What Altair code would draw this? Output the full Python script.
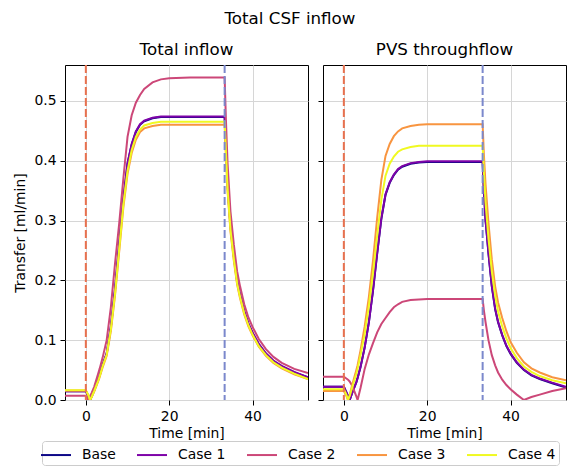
import altair as alt
import pandas as pd

FONT = "DejaVu Sans"

SERIES = ["Base", "Case 1", "Case 2", "Case 3", "Case 4"]
COLORS = ["#0d0887", "#7e03a8", "#cc4778", "#f89540", "#f0f921"]

TIME = [-5, 0, 0.6, 1, 1.4, 2, 3, 3.3, 4, 5, 6, 7, 8, 9, 10, 11, 12, 13, 14, 16, 18, 20, 25,
        33.3, 33.6, 34, 34.7, 35.5, 36.3, 37, 38, 39, 40, 41.5, 43.2, 45, 47, 50, 53.3]

# ---- Total inflow ----
TOTAL_BASE = [0.0145, 0.0145, 0.006, 0.0, 0.006, 0.016, 0.035, 0.041, 0.058, 0.078, 0.122, 0.185, 0.26, 0.335, 0.395, 0.427, 0.448, 0.46, 0.466, 0.471, 0.473, 0.473, 0.473,
              0.473, 0.42, 0.36, 0.29, 0.24, 0.198, 0.175, 0.148, 0.127, 0.112, 0.093, 0.077, 0.065, 0.056, 0.046, 0.038]
TOTAL_C1 = [0.0145, 0.0145, 0.006, 0.0, 0.006, 0.016, 0.035, 0.041, 0.058, 0.078, 0.122, 0.185, 0.261, 0.336, 0.396, 0.428, 0.449, 0.461, 0.467, 0.472, 0.474, 0.474, 0.474,
            0.474, 0.421, 0.361, 0.291, 0.241, 0.199, 0.176, 0.149, 0.128, 0.113, 0.094, 0.078, 0.066, 0.057, 0.047, 0.038]
TOTAL_C2 = [0.0073, 0.0073, 0.0, 0.006, 0.012, 0.022, 0.045, 0.052, 0.07, 0.1, 0.155, 0.228, 0.295, 0.37, 0.44, 0.476, 0.497, 0.51, 0.52, 0.531, 0.536, 0.538, 0.539,
            0.539, 0.47, 0.396, 0.315, 0.26, 0.215, 0.19, 0.16, 0.138, 0.122, 0.102, 0.085, 0.072, 0.062, 0.052, 0.045]
TOTAL_C3 = [0.016, 0.016, 0.008, 0.0, 0.005, 0.014, 0.032, 0.038, 0.054, 0.074, 0.115, 0.175, 0.248, 0.322, 0.378, 0.413, 0.435, 0.448, 0.454, 0.458, 0.46, 0.46, 0.46,
            0.46, 0.41, 0.35, 0.282, 0.233, 0.193, 0.17, 0.143, 0.123, 0.108, 0.089, 0.074, 0.062, 0.053, 0.043, 0.035]
TOTAL_C4 = [0.0165, 0.0165, 0.008, 0.0, 0.005, 0.015, 0.033, 0.039, 0.056, 0.076, 0.118, 0.178, 0.252, 0.327, 0.383, 0.418, 0.44, 0.452, 0.459, 0.463, 0.465, 0.465, 0.465,
            0.465, 0.415, 0.353, 0.285, 0.236, 0.195, 0.172, 0.145, 0.125, 0.109, 0.09, 0.075, 0.063, 0.054, 0.044, 0.035]

# ---- PVS throughflow ----
PVS_BASE = [0.022, 0.022, 0.013, 0.007, 0.0, 0.012, 0.03, 0.037, 0.055, 0.088, 0.13, 0.183, 0.245, 0.303, 0.343, 0.363, 0.376, 0.385, 0.39, 0.395, 0.397, 0.398, 0.398,
            0.398, 0.35, 0.30, 0.245, 0.19, 0.152, 0.13, 0.108, 0.09, 0.077, 0.062, 0.05, 0.041, 0.035, 0.028, 0.021]
PVS_C1 = [0.022, 0.022, 0.013, 0.007, 0.0, 0.012, 0.03, 0.037, 0.055, 0.088, 0.13, 0.184, 0.246, 0.304, 0.344, 0.364, 0.377, 0.386, 0.391, 0.396, 0.398, 0.399, 0.399,
          0.399, 0.351, 0.301, 0.246, 0.191, 0.153, 0.131, 0.109, 0.091, 0.078, 0.063, 0.051, 0.042, 0.036, 0.029, 0.022]
PVS_C2 = [0.039, 0.039, 0.036, 0.034, 0.031, 0.024, 0.006, 0.0, 0.02, 0.052, 0.076, 0.095, 0.113, 0.127, 0.137, 0.147, 0.155, 0.16, 0.164, 0.167, 0.168, 0.169, 0.169,
          0.169, 0.15, 0.13, 0.1, 0.075, 0.058, 0.046, 0.034, 0.025, 0.018, 0.009, 0.0, 0.005, 0.009, 0.015, 0.0195]
PVS_C3 = [0.015, 0.015, 0.007, 0.0, 0.008, 0.025, 0.05, 0.058, 0.083, 0.123, 0.172, 0.233, 0.305, 0.368, 0.408, 0.428, 0.441, 0.449, 0.454, 0.458, 0.46, 0.461, 0.461,
          0.461, 0.41, 0.36, 0.296, 0.235, 0.19, 0.163, 0.137, 0.115, 0.097, 0.079, 0.063, 0.053, 0.046, 0.038, 0.033]
PVS_C4 = [0.018, 0.018, 0.009, 0.0, 0.007, 0.021, 0.044, 0.052, 0.075, 0.11, 0.157, 0.212, 0.275, 0.335, 0.375, 0.395, 0.407, 0.415, 0.419, 0.423, 0.425, 0.425, 0.425,
          0.425, 0.38, 0.33, 0.27, 0.215, 0.175, 0.148, 0.123, 0.103, 0.087, 0.07, 0.056, 0.047, 0.04, 0.033, 0.028]

VLINE_TIMES = [0, 33.3]
VLINE_COLORS = ["#e8714f", "#7b88cc"]

Y_TICKS = [0.0, 0.1, 0.2, 0.3, 0.4, 0.5]
X_TICKS = [0, 20, 40]
X_DOMAIN = [-5, 53.3]
Y_DOMAIN = [0, 0.56]


def long_df(cols):
    rows = []
    for name, vals in zip(SERIES, cols):
        for i, (t, v) in enumerate(zip(TIME, vals)):
            rows.append({"Time": t, "Value": v, "Series": name, "order": i})
    return pd.DataFrame(rows)


total_df = long_df([TOTAL_BASE, TOTAL_C1, TOTAL_C2, TOTAL_C3, TOTAL_C4])
pvs_df = long_df([PVS_BASE, PVS_C1, PVS_C2, PVS_C3, PVS_C4])

legend = alt.Legend(
    title=None, orient="none", legendX=-23, legendY=376, direction="horizontal",
    columns=5, symbolType="M-1.5,0H1.5", symbolSize=400, symbolStrokeWidth=2,
    symbolFillColor="transparent",
    labelFontSize=13.9, labelFont=FONT, labelColor="black", labelOffset=15,
    columnPadding=17, padding=3, strokeColor="#cccccc", cornerRadius=3,
    fillColor="white",
)


def panel(df, title, first):
    x = alt.X("Time:Q", scale=alt.Scale(domain=X_DOMAIN, nice=False, zero=False),
              axis=alt.Axis(values=X_TICKS, title="Time [min]"))
    if first:
        yaxis = alt.Axis(values=Y_TICKS, format=".1f", title="Transfer [ml/min]")
    else:
        yaxis = alt.Axis(values=Y_TICKS, labels=False, title=None)
    y = alt.Y("Value:Q", scale=alt.Scale(domain=Y_DOMAIN, nice=False), axis=yaxis)
    lines = alt.Chart(df).mark_line(strokeWidth=2, clip=True).encode(
        x=x, y=y,
        color=alt.Color("Series:N", scale=alt.Scale(domain=SERIES, range=COLORS),
                        legend=legend),
        order="order:Q",
    )
    layers = [lines]
    for t, c in zip(VLINE_TIMES, VLINE_COLORS):
        layers.append(
            alt.Chart(pd.DataFrame({"Time": [t]})).mark_rule(
                strokeWidth=2, strokeDash=[8, 3], color=c
            ).encode(x=alt.X("Time:Q"))
        )
    return alt.layer(*layers).properties(
        width=243, height=335,
        title=alt.Title(title, fontSize=16.7, font=FONT, fontWeight="normal", offset=5.7),
    )


chart = alt.hconcat(
    panel(total_df, "Total inflow", True),
    panel(pvs_df, "PVS throughflow", False),
    spacing=8,
).properties(
    title=alt.Title("Total CSF inflow", fontSize=16.7, font=FONT, fontWeight="normal",
                    anchor="middle", offset=13),
    padding={"left": 5, "top": 3, "right": 0, "bottom": 0},
).configure_view(
    stroke="black", strokeWidth=1,
).configure_axis(
    labelFont=FONT, titleFont=FONT, labelFontSize=13.9, titleFontSize=13.9,
    titleFontWeight="normal", labelColor="black", titleColor="black",
    domain=False, tickColor="black", tickSize=5, tickWidth=1, labelPadding=4,
    grid=True, gridColor="#d6d6d6", gridWidth=1,
).configure_axisY(titlePadding=6).configure_axisX(titlePadding=4)

chart.save("out.html", embed_options={"renderer": "svg", "actions": False})
